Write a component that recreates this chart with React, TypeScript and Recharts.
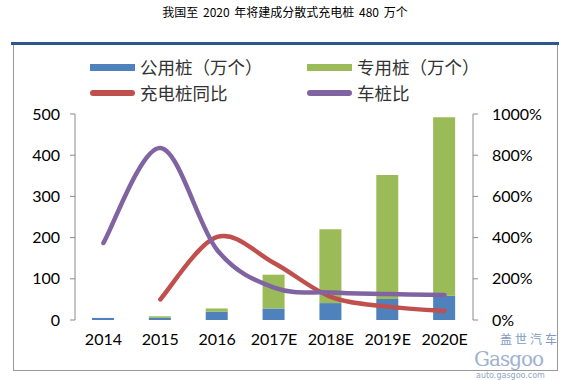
import React from 'react';
import { ComposedChart, Bar, Line, XAxis, YAxis } from 'recharts';

const categories = ['2014', '2015', '2016', '2017E', '2018E', '2019E', '2020E'];
const publicPiles = [5, 5, 20, 28, 41, 51, 59];
const privatePiles = [0, 4, 8, 82, 179, 301, 433];
const growthPct: (number | null)[] = [null, 100, 403, 277, 112, 65, 44];
const vehicleRatioPct = [374, 835, 340, 157, 133, 126, 121];
const leftTicks = [0, 100, 200, 300, 400, 500];
const rightTicks = [0, 200, 400, 600, 800, 1000];
const boundaryTicks = [0, 1, 2, 3, 4, 5, 6, 7];

const data = categories.map((c, i) => ({
  name: c,
  idx: i + 0.5,
  pub: publicPiles[i],
  priv: privatePiles[i],
  growth: growthPct[i],
  ratio: vehicleRatioPct[i],
}));

// Excel-like smoothed line (Catmull-Rom style Bezier)
const excelCurve = (context: any) => {
  let pts: number[][] = [];
  return {
    areaStart() {},
    areaEnd() {},
    lineStart() {
      pts = [];
    },
    point(x: number, y: number) {
      pts.push([+x, +y]);
    },
    lineEnd() {
      const n = pts.length;
      if (!n) return;
      context.moveTo(pts[0][0], pts[0][1]);
      if (n === 1) {
        context.lineTo(pts[0][0], pts[0][1]);
        return;
      }
      for (let i = 0; i < n - 1; i++) {
        const p0 = pts[Math.max(i - 1, 0)];
        const p1 = pts[i];
        const p2 = pts[i + 1];
        const p3 = pts[Math.min(i + 2, n - 1)];
        context.bezierCurveTo(
          p1[0] + (p2[0] - p0[0]) / 6,
          p1[1] + (p2[1] - p0[1]) / 6,
          p2[0] - (p3[0] - p1[0]) / 6,
          p2[1] - (p3[1] - p1[1]) / 6,
          p2[0],
          p2[1]
        );
      }
    },
  };
};

const FONT = 'Lato, "Open Sans", sans-serif';
const CJK = '"Noto Sans CJK SC", sans-serif';
const tickStyle = { fontSize: 16, fill: '#000', fontFamily: FONT };

const LegendItem = ({ x, y, color, label, line }: any) => (
  <div style={{ position: 'absolute', left: x, top: y - 13, height: 26, display: 'flex', alignItems: 'center' }}>
    <div
      style={{
        width: 45,
        height: line ? 6 : 7,
        background: color,
        borderRadius: line ? 3 : 0,
        marginRight: 5,
      }}
    />
    <span style={{ fontFamily: CJK, fontSize: 17.5, color: '#333', whiteSpace: 'nowrap', lineHeight: '26px' }}>
      {label}
    </span>
  </div>
);

export default function App() {
  return (
    <div style={{ position: 'absolute', left: 0, top: 0, width: 570, height: 380, background: '#fff', overflow: 'hidden' }}>
      <div
        style={{
          position: 'absolute',
          left: 0,
          width: 570,
          top: 3,
          textAlign: 'center',
          fontFamily: CJK,
          fontSize: 12,
          color: '#000',
          wordSpacing: 2,
        }}
      >
        我国至 2020 年将建成分散式充电桩 480 万个
      </div>
      <div
        style={{
          position: 'absolute',
          left: 13,
          top: 43,
          width: 543,
          height: 326,
          border: '1px solid #9a9a9a',
        }}
      />
      <div style={{ position: 'absolute', left: 11, top: 42, width: 548, height: 3, background: '#2B5690' }} />
      <div style={{ position: 'absolute', left: 0, top: 0 }}>
        <ComposedChart width={570} height={380} data={data} margin={{ top: 114, right: 37, bottom: 30, left: 15 }}>
          <XAxis
            xAxisId="bound"
            type="number"
            dataKey="idx"
            domain={[0, 7]}
            ticks={boundaryTicks}
            allowDataOverflow
            height={0}
            tickSize={5}
            tickFormatter={() => ''}
            axisLine={{ stroke: '#8a8a8a' }}
            tickLine={{ stroke: '#8a8a8a' }}
          />
          <XAxis
            xAxisId="cat"
            dataKey="name"
            height={30}
            axisLine={false}
            tickLine={false}
            tickSize={0}
            tickMargin={14}
            interval={0}
            tick={tickStyle}
          />
          <YAxis
            yAxisId="left"
            domain={[0, 500]}
            ticks={leftTicks}
            width={60}
            tickSize={5}
            tickMargin={10}
            axisLine={{ stroke: '#8a8a8a' }}
            tickLine={{ stroke: '#8a8a8a' }}
            tick={tickStyle}
          />
          <YAxis
            yAxisId="right"
            orientation="right"
            domain={[0, 1000]}
            ticks={rightTicks}
            width={60}
            tickSize={5}
            tickMargin={14}
            tickFormatter={(v: number) => `${v}%`}
            axisLine={{ stroke: '#8a8a8a' }}
            tickLine={{ stroke: '#8a8a8a' }}
            tick={tickStyle}
          />
          <Bar xAxisId="cat" yAxisId="left" dataKey="pub" stackId="s" fill="#4F81BD" barSize={22} isAnimationActive={false} />
          <Bar xAxisId="cat" yAxisId="left" dataKey="priv" stackId="s" fill="#9BBB59" barSize={22} isAnimationActive={false} />
          <Line
            xAxisId="cat"
            yAxisId="right"
            dataKey="growth"
            type={excelCurve as any}
            stroke="#C0504D"
            strokeWidth={4.5}
            strokeLinecap="round"
            dot={false}
            activeDot={false}
            isAnimationActive={false}
          />
          <Line
            xAxisId="cat"
            yAxisId="right"
            dataKey="ratio"
            type={excelCurve as any}
            stroke="#8064A2"
            strokeWidth={4.5}
            strokeLinecap="round"
            dot={false}
            activeDot={false}
            isAnimationActive={false}
          />
        </ComposedChart>
      </div>
      <LegendItem x={90} y={67} color="#4F81BD" label="公用桩（万个）" />
      <LegendItem x={307} y={67} color="#9BBB59" label="专用桩（万个）" />
      <LegendItem x={90} y={93} color="#C0504D" label="充电桩同比" line />
      <LegendItem x={307} y={93} color="#8064A2" label="车桩比" line />
      <div style={{ position: 'absolute', left: 500, top: 333, fontFamily: CJK, fontSize: 12, lineHeight: '12px', color: '#7f9bc0', letterSpacing: 3 }}>
        盖世汽车
      </div>
      <div style={{ position: 'absolute', left: 474, top: 347, fontFamily: '"DejaVu Serif", serif', fontSize: 20, color: '#9fb3cf', letterSpacing: -1 }}>
        Gasgoo
      </div>
      <div style={{ position: 'absolute', left: 476, top: 371, fontFamily: '"DejaVu Sans", sans-serif', fontSize: 8, color: '#8fa6c6' }}>
        auto.gasgoo.com
      </div>
    </div>
  );
}
